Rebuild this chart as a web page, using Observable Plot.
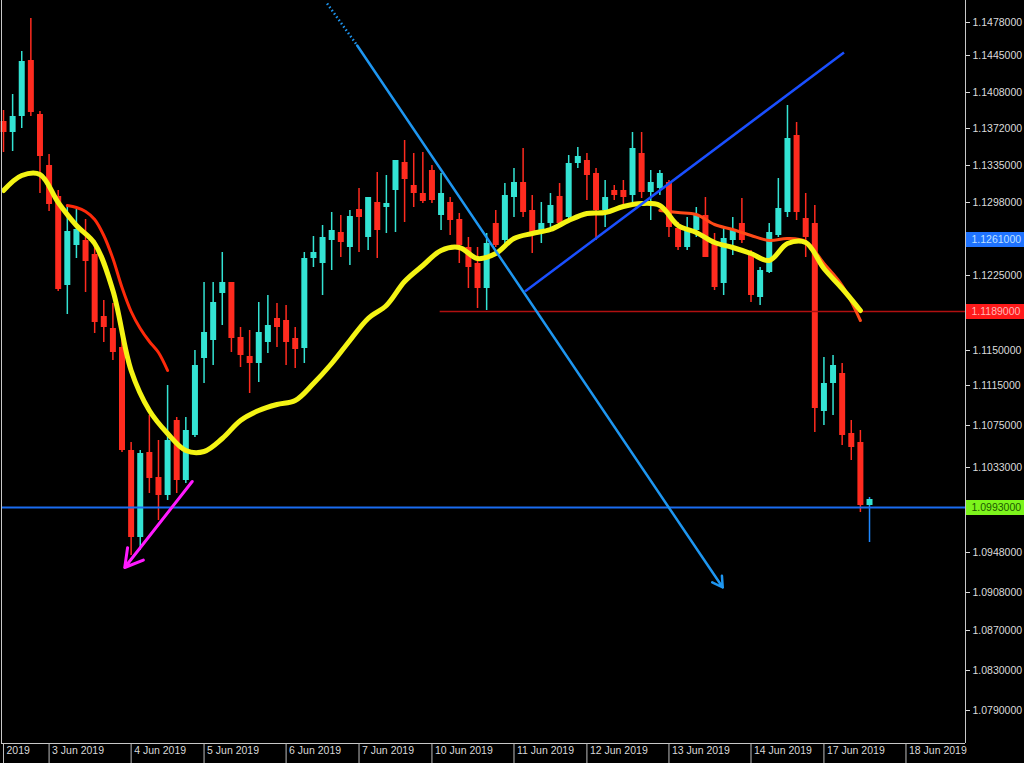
<!DOCTYPE html>
<html><head><meta charset="utf-8">
<script src="https://cdn.jsdelivr.net/npm/d3@7"></script>
<script src="https://cdn.jsdelivr.net/npm/@observablehq/plot@0.6"></script>
<style>html,body{margin:0;padding:0;background:#000;overflow:hidden;}</style>
</head><body><div id="chart"></div>
<script>
// ---- candle data (price) ----
const opens = [1.1379,1.1368,1.1384,1.1440,1.1386,1.1335,1.1304,1.1215,1.1255,1.1260,
1.1246,1.1184,1.1172,1.1153,1.1050,1.0963,1.1048,1.1023,1.1005,1.1080,
1.1020,1.1065,1.1142,1.1160,1.1207,1.1218,1.1163,1.1144,1.1137,1.1158,
1.1182,1.1180,1.1162,1.1152,1.1242,1.1237,1.1260,1.1268,1.1253,1.1291,
1.1263,1.1298,1.1293,1.1310,1.1338,1.1315,1.1307,1.1330,1.1285,1.1298,
1.1281,1.1253,1.1237,1.1212,1.1277,1.1260,1.1303,1.1318,1.1290,1.1267,
1.1277,1.1304,1.1283,1.1337,1.1340,1.1327,1.1290,1.1310,1.1310,1.1305,
1.1347,1.1308,1.1312,1.1318,1.1272,1.1253,1.1270,1.1285,1.1257,1.1217,
1.1260,1.1277,1.1248,1.1203,1.1228,1.1265,1.1288,1.1365,1.1282,1.1277,
1.1089,1.1117,1.1127,1.1067,1.1058,1.0995];
const closes = [1.1368,1.1384,1.1439,1.1388,1.1344,1.1296,1.1211,1.1269,1.1271,1.1239,
1.1178,1.1173,1.1148,1.1050,1.0963,1.1047,1.1022,1.1005,1.1060,1.1020,
1.1070,1.1135,1.1168,1.1198,1.1218,1.1162,1.1145,1.1137,1.1168,1.1175,
1.1173,1.1158,1.1151,1.1242,1.1248,1.1263,1.1270,1.1258,1.1284,1.1283,
1.1303,1.1270,1.1297,1.1340,1.1321,1.1307,1.1299,1.1300,1.1307,1.1280,
1.1255,1.1233,1.1212,1.1257,1.1255,1.1305,1.1318,1.1288,1.1268,1.1277,
1.1295,1.1277,1.1337,1.1344,1.1325,1.1290,1.1303,1.1305,1.1303,1.1352,
1.1308,1.1318,1.1327,1.1273,1.1253,1.1272,1.1285,1.1243,1.1213,1.1262,
1.1270,1.1260,1.1205,1.1230,1.1268,1.1292,1.1362,1.1288,1.1263,1.1092,
1.1117,1.1135,1.1065,1.1053,1.0995,1.1001];
const highs = [1.1390,1.1406,1.1449,1.1482,1.1389,1.1346,1.1310,1.1294,1.1291,1.1281,
1.1260,1.1200,1.1197,1.1162,1.1058,1.1050,1.1085,1.1060,1.1115,1.1083,
1.1083,1.1150,1.1218,1.1218,1.1248,1.1218,1.1173,1.1170,1.1198,1.1205,
1.1197,1.1195,1.1173,1.1248,1.1264,1.1275,1.1288,1.1285,1.1290,1.1312,
1.1303,1.1328,1.1325,1.1340,1.1360,1.1347,1.1348,1.1335,1.1327,1.1303,
1.1287,1.1263,1.1253,1.1267,1.1290,1.1317,1.1332,1.1352,1.1305,1.1298,
1.1307,1.1317,1.1345,1.1353,1.1347,1.1332,1.1320,1.1315,1.1320,1.1368,
1.1368,1.1330,1.1330,1.1320,1.1278,1.1283,1.1293,1.1303,1.1267,1.1272,
1.1283,1.1302,1.1250,1.1233,1.1277,1.1322,1.1395,1.1378,1.1307,1.1295,
1.1143,1.1145,1.1137,1.1080,1.1070,1.1003];
const lows = [1.1348,1.1349,1.1372,1.1384,1.1307,1.1289,1.1209,1.1186,1.1242,1.1208,
1.1167,1.1158,1.1140,1.1048,1.0945,1.0950,1.1007,1.0980,1.1000,1.1007,
1.1017,1.1063,1.1117,1.1135,1.1175,1.1148,1.1133,1.1107,1.1118,1.1147,
1.1153,1.1135,1.1132,1.1137,1.1233,1.1205,1.1230,1.1243,1.1235,1.1248,
1.1250,1.1242,1.1267,1.1268,1.1278,1.1293,1.1297,1.1297,1.1270,1.1265,
1.1237,1.1212,1.1192,1.1190,1.1253,1.1253,1.1283,1.1283,1.1247,1.1257,
1.1270,1.1273,1.1280,1.1332,1.1300,1.1260,1.1273,1.1300,1.1295,1.1298,
1.1302,1.1280,1.1305,1.1263,1.1250,1.1250,1.1263,1.1243,1.1210,1.1205,
1.1245,1.1257,1.1198,1.1195,1.1227,1.1263,1.1283,1.1280,1.1243,1.1068,
1.1075,1.1085,1.1055,1.1040,1.0988,1.0958];

// ---- moving averages ----
const yellowIdx = [0,2,4,6,8,10,12,14,16,18,20,22,24,26,28,30,32,34,36,38,40,42,44,46,
48,50,52,54,56,58,60,62,64,66,68,70,72,74,76,78,80,82,84,86,88,90,92,94];
const yellowVal = [1.1310,1.1325,1.1326,1.1298,1.1275,1.1257,1.1210,1.1130,1.1090,1.1067,
1.1050,1.1049,1.1062,1.1080,1.1090,1.1096,1.1100,1.1117,1.1137,1.1160,1.1182,1.1195,
1.1219,1.1235,1.1250,1.1253,1.1242,1.1247,1.1262,1.1267,1.1271,1.1280,1.1287,1.1288,
1.1294,1.1297,1.1295,1.1275,1.1268,1.1258,1.1253,1.1247,1.1240,1.1257,1.1258,1.1232,
1.1212,1.1190];
const redAIdx = [7,8,9,10,11,12,13,14,15,16,17,18];
const redAVal = [1.1295,1.1293,1.1289,1.1281,1.1265,1.1242,1.1213,1.1189,1.1172,1.1159,1.1148,1.1130];
const redBIdx = [72,74,76,78,80,82,84,86,88,90,92,94];
const redBVal = [1.1290,1.1288,1.1286,1.1276,1.1271,1.1265,1.1260,1.1262,1.1259,1.1237,1.1215,1.1180];

// ---- drawings ----
const downLine = {x1: 38.8, y1: 1.1455, x2: 78.9, y2: 1.0913};
const downDots = {x1: 35.5, y1: 1.1497, x2: 38.8, y2: 1.1455};
const upLine = {x1: 57.2, y1: 1.1209, x2: 92.2, y2: 1.1448};
const magentaArrow = {x1: 20.7, y1: 1.1019, x2: 13.3, y2: 1.0933};
const supportLevel = 1.0993;
const resistLevel = {x1: 47.9, y: 1.1189};
const priceBoxes = [
  {p: 1.1261, bg: "#1f73ff", fg: "#bfe0ff"},
  {p: 1.1189, bg: "#ff1a1a", fg: "#ffb8b8"},
  {p: 1.0993, bg: "#7cf41c", fg: "#1d5a00"}
];

// ---- axes ----
const yTickVals = [1.1478,1.1445,1.1408,1.1372,1.1335,1.1298,1.1225,1.1150,1.1115,1.1075,
1.1033,1.0948,1.0908,1.0870,1.0830,1.0790];
const xTickIdx = [0,5,14,22,31,39,47,56,64,73,82,90,99];
const xTickLabels = ["2019","3 Jun 2019","4 Jun 2019","5 Jun 2019","6 Jun 2019","7 Jun 2019",
"10 Jun 2019","11 Jun 2019","12 Jun 2019","13 Jun 2019","14 Jun 2019","17 Jun 2019","18 Jun 2019"];
const xDomain = [-0.22, 105.53];
const yDomain = [1.0757, 1.1500];

const UP = "#33e3d3", DOWN = "#ff2b1f";
const candles = opens.map((o, i) => ({i, o, c: closes[i], h: highs[i], l: lows[i]}));
const last = candles.length - 1;
const yellow = yellowIdx.map((i, k) => ({i, v: yellowVal[k]}));
const redA = redAIdx.map((i, k) => ({i, v: redAVal[k]}));
const redB = redBIdx.map((i, k) => ({i, v: redBVal[k]}));

const chart = Plot.plot({
  width: 1024, height: 763,
  marginLeft: 1, marginRight: 59, marginTop: 0, marginBottom: 20,
  style: {background: "#000", color: "#ddd", fontFamily: "'Liberation Sans', Arial, sans-serif"},
  x: {domain: xDomain, label: null},
  y: {domain: yDomain, label: null},
  color: {type: "identity"},
  marks: [
    // candles
    Plot.ruleX(candles, {x: "i", y1: "l", y2: "h", strokeWidth: 1.5,
      stroke: d => d.i === last ? "#1e88ff" : (d.c >= d.o ? UP : DOWN)}),
    Plot.ruleX(candles, {x: "i", y1: "o", y2: "c", strokeWidth: 6,
      stroke: d => d.c >= d.o ? UP : DOWN}),
    // horizontal levels
    Plot.ruleY([supportLevel], {y: d => d, stroke: "#1a6cf0", strokeWidth: 2}),
    Plot.ruleY([resistLevel], {x1: "x1", x2: () => xDomain[1], y: "y", stroke: "#b01010", strokeWidth: 1.5}),
    // moving averages
    Plot.line(redA, {x: "i", y: "v", stroke: "#ff2a0a", strokeWidth: 3, curve: "catmull-rom"}),
    Plot.line(redB, {x: "i", y: "v", stroke: "#ff4a18", strokeWidth: 3, curve: "catmull-rom"}),
    Plot.line(yellow, {x: "i", y: "v", stroke: "#f4f414", strokeWidth: 5, curve: "catmull-rom", strokeLinecap: "round"}),
    // trend lines
    Plot.link([downDots], {x1: "x1", y1: "y1", x2: "x2", y2: "y2", stroke: "#1e96f0", strokeWidth: 2.5, strokeDasharray: "1.5,2.5"}),
    Plot.arrow([downLine], {x1: "x1", y1: "y1", x2: "x2", y2: "y2", stroke: "#1e96f0", strokeWidth: 2.5, headLength: 7}),
    Plot.link([upLine], {x1: "x1", y1: "y1", x2: "x2", y2: "y2", stroke: "#1a4fff", strokeWidth: 2.5}),
    Plot.arrow([magentaArrow], {x1: "x1", y1: "y1", x2: "x2", y2: "y2", stroke: "#ff1aff", strokeWidth: 3, headLength: 10}),
    // frame lines
    Plot.ruleX(xDomain, {x: d => d, stroke: "#c8c8c8", strokeWidth: 1}),
    Plot.ruleY([yDomain[0]], {y: d => d, stroke: "#c8c8c8", strokeWidth: 1}),
    // axes
    Plot.axisY({anchor: "right", ticks: yTickVals, tickSize: 4, tickPadding: 3,
      tickFormat: d => d.toFixed(7), color: "#dcdcdc", fontSize: 10.5, label: null}),
    Plot.axisX({anchor: "bottom", ticks: xTickIdx, tickSize: 20, tickFormat: () => "",
      color: "#bdbdbd", label: null}),
    Plot.text(xTickIdx, {x: d => d, text: (d, k) => xTickLabels[k], frameAnchor: "bottom",
      dy: 10, dx: 3, textAnchor: "start", fill: "#d8d8d8", fontSize: 10.5}),
    // price boxes on the right scale
    Plot.ruleY(priceBoxes, {y: "p", stroke: "bg", strokeWidth: 15, dx: 965}),
    Plot.text(priceBoxes, {y: "p", text: d => d.p.toFixed(7), frameAnchor: "right",
      dx: 6, textAnchor: "start", fill: "fg", fontSize: 10.5})
  ]
});
document.getElementById("chart").appendChild(chart);
</script>
</body></html>
